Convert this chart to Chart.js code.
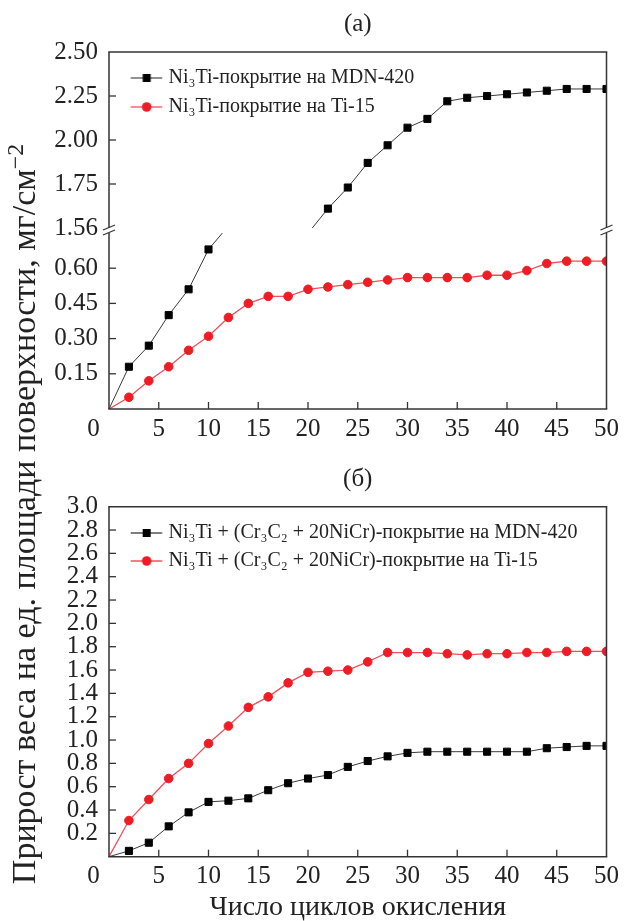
<!DOCTYPE html>
<html><head><meta charset="utf-8">
<script src="https://cdn.jsdelivr.net/npm/chart.js@4/dist/chart.umd.min.js"></script>
<style>
html,body{margin:0;padding:0;background:#fff;}
#wrap{position:relative;width:624px;height:921px;overflow:hidden;background:#fff;}
canvas{position:absolute;left:0;}
#cA{top:0;}
#cB{top:450px;}
#ytitle{position:absolute;left:24px;top:514px;width:900px;height:40px;margin-left:-450px;margin-top:-20px;line-height:40px;text-align:center;transform:rotate(-90deg);font-family:'Liberation Serif';font-size:34px;color:#222;white-space:nowrap;}
#ytitle sup{font-size:0.7em;vertical-align:0.5em;line-height:0;}
</style></head>
<body><div id="wrap">
<canvas id="cA" width="624" height="450"></canvas>
<canvas id="cB" width="624" height="474"></canvas>
<div id="ytitle">Прирост веса на ед. площади поверхности, мг/см<sup>−2</sup></div>
</div>
<script>
// ---- data ----
const cycles = [0,2,4,6,8,10,12,14,16,18,20,22,24,26,28,30,32,34,36,38,40,42,44,46,48,50];
// panel (a)
const mdnA = [0,0.18,0.27,0.40,0.51,0.68,0.78,null,null,null,1.47,1.61,1.73,1.87,1.97,2.07,2.12,2.22,2.24,2.25,2.26,2.27,2.28,2.29,2.29,2.29];
const tiA  = [0,0.05,0.12,0.18,0.25,0.31,0.39,0.45,0.48,0.48,0.51,0.52,0.53,0.54,0.55,0.56,0.56,0.56,0.56,0.57,0.57,0.59,0.62,0.63,0.63,0.63];
// panel (б)
const mdnB = [0,0.05,0.12,0.26,0.38,0.47,0.48,0.50,0.57,0.63,0.67,0.70,0.77,0.82,0.86,0.89,0.90,0.90,0.90,0.90,0.90,0.90,0.93,0.94,0.95,0.95];
const tiB  = [0,0.31,0.49,0.67,0.80,0.97,1.12,1.28,1.37,1.49,1.58,1.59,1.60,1.67,1.75,1.75,1.75,1.74,1.73,1.74,1.74,1.75,1.75,1.76,1.76,1.76];
// ticks
const xTicks = [0,5,10,15,20,25,30,35,40,45,50];
const xTickLabels = ['0','5','10','15','20','25','30','35','40','45','50'];
const aLowTicks = [0.15,0.30,0.45,0.60];
const aLowLabels = ['0.15','0.30','0.45','0.60'];
const aUpTicks = [1.5,1.75,2.0,2.25,2.5];
const aUpLabels = ['1.56','1.75','2.00','2.25','2.50'];
const bTicks = [0.2,0.4,0.6,0.8,1.0,1.2,1.4,1.6,1.8,2.0,2.2,2.4,2.6,2.8,3.0];
const bLabels = ['0.2','0.4','0.6','0.8','1.0','1.2','1.4','1.6','1.8','2.0','2.2','2.4','2.6','2.8','3.0'];
const labelsA = ['Ni₃Ti-покрытие на MDN-420','Ni₃Ti-покрытие на Ti-15'];
const labelsB = ['Ni₃Ti + (Cr₃C₂ + 20NiCr)-покрытие на MDN-420','Ni₃Ti + (Cr₃C₂ + 20NiCr)-покрытие на Ti-15'];

// ---- styles ----
const FAM = 'Liberation Serif';
const TXT = '#222';
const BLK_LINE = '#3a3a3a', RED_LINE = '#f0505a', RED = '#ee1c25';
const tickFont = {family: FAM, size: 25};

const pts = arr => cycles.map((c, i) => ({x: c, y: arr[i]}));
const rad = r => (ctx => ctx.dataIndex === 0 ? 0 : r);

function blackSet(label, data, axis, range) {
  return {label, data: pts(data), yAxisID: axis, segRange: range, borderColor: BLK_LINE, borderWidth: 1,
    pointStyle: 'rect', pointRadius: rad(5), pointBackgroundColor: '#000', pointBorderColor: '#000', pointBorderWidth: 1, tension: 0};
}
function redSet(label, data, axis, range) {
  return {label, data: pts(data), yAxisID: axis, segRange: range, borderColor: RED_LINE, borderWidth: 1.3,
    pointStyle: 'circle', pointRadius: rad(4.3), pointBackgroundColor: RED, pointBorderColor: RED, pointBorderWidth: 1, tension: 0};
}

function sample(kind, mx) {
  const c = document.createElement('canvas'); c.width = 64; c.height = 14;
  const g = c.getContext('2d');
  g.strokeStyle = kind === 'sq' ? '#555' : RED_LINE; g.lineWidth = 1.3;
  g.beginPath(); g.moveTo(mx - 16, 7); g.lineTo(mx + 15.5, 7); g.stroke();
  if (kind === 'sq') { g.fillStyle = '#000'; g.fillRect(mx - 4, 3, 8, 8); }
  else { g.fillStyle = RED; g.beginPath(); g.arc(mx, 7, 4.8, 0, Math.PI * 2); g.fill(); }
  return c;
}

// clip each dataset to its own axis segment
const clipPlugin = {
  id: 'segClip',
  beforeDatasetDraw(chart, args) {
    const ds = chart.data.datasets[args.index];
    if (!ds.segRange) return;
    const ys = chart.scales[ds.yAxisID];
    const top = ys.getPixelForValue(ds.segRange[1]);
    const bottom = ys.getPixelForValue(ds.segRange[0]);
    const ca = chart.chartArea, ctx = chart.ctx;
    ctx.save(); ctx.beginPath();
    ctx.rect(ca.left - 12, top, ca.right - ca.left + 24, bottom - top);
    ctx.clip();
  },
  afterDatasetDraw(chart, args) {
    const ds = chart.data.datasets[args.index];
    if (!ds.segRange) return;
    chart.ctx.restore();
  }
};

// frame, axis break marks and inward ticks
const framePlugin = {
  id: 'frame',
  afterDatasetsDraw(chart) {
    const ctx = chart.ctx, ca = chart.chartArea;
    const L = ca.left, R = ca.right, T = ca.top, B = ca.bottom;
    ctx.save(); ctx.strokeStyle = '#333'; ctx.lineWidth = 1.5;
    const line = (x1, y1, x2, y2) => { ctx.beginPath(); ctx.moveTo(x1, y1); ctx.lineTo(x2, y2); ctx.stroke(); };
    line(L - 0.75, T, R + 0.75, T); line(L - 0.75, B, R + 0.75, B);
    const segs = [];
    if (chart.scales.yUp) {
      const yU = chart.scales.yUp.getPixelForValue(1.5);
      const yL = chart.scales.yLow.getPixelForValue(0.75);
      line(L, T, L, yU); line(L, yL, L, B); line(R, T, R, yU); line(R, yL, R, B);
      ctx.lineWidth = 1.2;
      [L, R].forEach(x => { line(x - 6, yU + 2, x + 6, yU - 3); line(x - 6, yL + 2, x + 6, yL - 3); });
      segs.push([chart.scales.yUp, T, yU], [chart.scales.yLow, yL, B]);
    } else {
      line(L, T, L, B); line(R, T, R, B);
      segs.push([chart.scales.y, T, B]);
    }
    ctx.lineWidth = 1.3;
    const xs = chart.scales.x;
    xs.ticks.forEach(t => { const x = xs.getPixelForValue(t.value); if (x > L + 2 && x < R - 2) line(x, B, x, B - 7); });
    segs.forEach(([s, top, bot]) => {
      s.ticks.forEach(t => { const y = s.getPixelForValue(t.value); if (y > top + 2 && y < bot - 2) line(L, y, L + 7, y); });
    });
    ctx.restore();
  }
};

const xScale = (h, title) => ({
  type: 'linear', min: 0, max: 50,
  afterBuildTicks: s => { s.ticks = xTicks.map(v => ({value: v})); },
  afterFit: s => { s.height = h; },
  grid: {display: false, drawTicks: false}, border: {display: false},
  ticks: {font: tickFont, color: TXT, padding: 5, autoSkip: false, maxRotation: 0,
    callback: (v) => { const i = xTicks.indexOf(v); return i === 0 ? xTickLabels[0] + '     ' : xTickLabels[i]; }},
  title: title ? {display: true, text: title, font: {family: FAM, size: 28}, color: TXT, padding: {top: 0, bottom: 0}} : {display: false}
});
const yScale = (vals, labs, extra) => Object.assign({
  type: 'linear', position: 'left',
  afterBuildTicks: s => { s.ticks = vals.map(v => ({value: v})); },
  afterFit: s => { s.width = 109; },
  grid: {display: false, drawTicks: false}, border: {display: false},
  ticks: {font: tickFont, color: TXT, padding: 11, autoSkip: false,
    callback: (v) => { const i = vals.indexOf(v); return i >= 0 ? labs[i] : ''; }}
}, extra);

// legend box sits at the canvas top: offset it down with an empty legend title
function legendCfg(imgs, pad, bw, offset) {
  return {
    position: 'chartArea', align: 'start',
    title: {display: true, text: ' ', font: {size: 4, lineHeight: 1}, padding: {top: offset - 4, bottom: 0}},
    labels: {
      usePointStyle: true, pointStyleWidth: bw, padding: pad,
      font: {family: FAM, size: 20}, color: TXT,
      generateLabels: chart => Chart.defaults.plugins.legend.labels.generateLabels(chart)
        .filter(it => imgs[it.datasetIndex])
        .map(it => { it.pointStyle = imgs[it.datasetIndex]; return it; })
    }
  };
}

// ---- panel (a) ----
new Chart(document.getElementById('cA'), {
  type: 'line',
  data: {datasets: [
    blackSet(labelsA[0], mdnA, 'yLow', [0, 0.75]),
    blackSet('upper', mdnA, 'yUp', [1.5, 2.5]),
    redSet(labelsA[1], tiA, 'yLow', [0, 0.75])
  ]},
  options: {
    responsive: false, animation: false, devicePixelRatio: 1,
    layout: {padding: {left: 0, right: 15, top: 0, bottom: 0}},
    scales: {
      x: xScale(41, null),
      yLow: yScale(aLowTicks, aLowLabels, {min: 0, max: 0.75, stack: 'a', stackWeight: 176}),
      yUp: yScale(aUpTicks, aUpLabels, {min: 1.5 - 5 / 176, max: 2.5, stack: 'a', stackWeight: 181})
    },
    plugins: {
      legend: legendCfg([sample('sq', 40.45), null, sample('ci', 40.45)], 9, 40.5, 59),
      title: {display: true, text: '(а)', fullSize: false, font: {family: FAM, size: 25, weight: 'normal'}, color: TXT, padding: {top: 9, bottom: 13}},
      tooltip: {enabled: false}
    }
  },
  plugins: [clipPlugin, framePlugin]
});

// ---- panel (б) ----
new Chart(document.getElementById('cB'), {
  type: 'line',
  data: {datasets: [
    blackSet(labelsB[0], mdnB, 'y', null),
    redSet(labelsB[1], tiB, 'y', null)
  ]},
  options: {
    responsive: false, animation: false, devicePixelRatio: 1,
    layout: {padding: {left: 0, right: 15, top: 0, bottom: 0}},
    scales: {
      x: xScale(67.3, 'Число циклов окисления'),
      y: yScale(bTicks, bLabels, {min: 0, max: 3.0})
    },
    plugins: {
      legend: legendCfg([sample('sq', 40.95), sample('ci', 40.95)], 8, 41.5, 65),
      title: {display: true, text: '(б)', fullSize: false, font: {family: FAM, size: 25, weight: 'normal'}, color: TXT, padding: {top: 14, bottom: 12.7}},
      tooltip: {enabled: false}
    }
  },
  plugins: [clipPlugin, framePlugin]
});
</script>
</body></html>
